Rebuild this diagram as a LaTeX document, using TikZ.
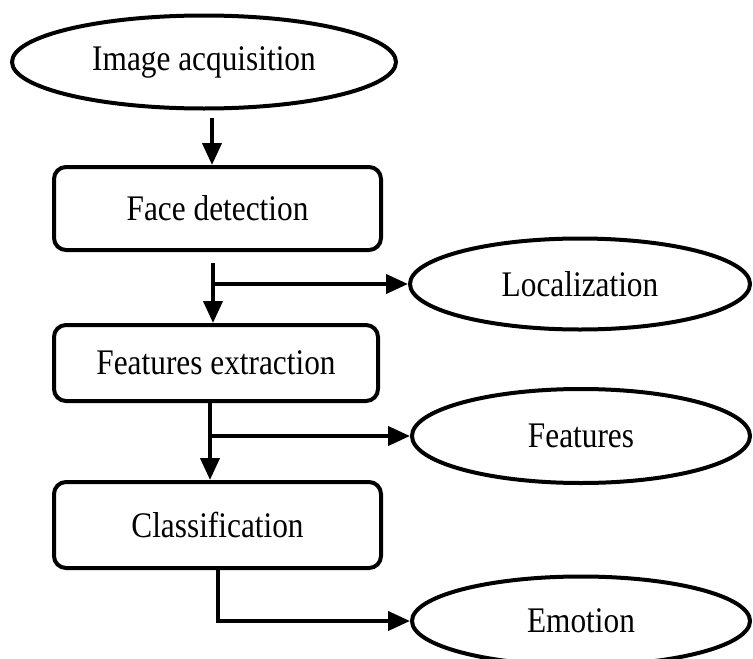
\documentclass[tikz,border=0pt]{standalone}
\usepackage{fontspec}
\setmainfont{Liberation Serif}[FakeStretch=0.87]
\usetikzlibrary{shapes.geometric,arrows.meta}
\begin{document}
\begin{tikzpicture}[x=1pt,y=-1pt,
  every node/.style={font=\fontsize{36}{40}\selectfont, inner sep=0pt},
  oval/.style={draw, ellipse, line width=4pt},
  stepbox/.style={draw, rectangle, rounded corners=12pt, line width=4pt},
  arr/.style={line width=4pt, -{Triangle[length=22pt,width=19pt]}}]
\useasboundingbox (0,0) rectangle (753,659);
\node[oval, minimum width=384pt, minimum height=93pt] (ia) at (204,62) {Image acquisition};
\node[stepbox, minimum width=327pt, minimum height=83pt] (fd) at (217.5,208.5) {Face detection};
\node[oval, minimum width=340pt, minimum height=91pt] (loc) at (580,284) {Localization};
\node[stepbox, minimum width=324pt, minimum height=76pt] (fe) at (216,363) {Features extraction};
\node[oval, minimum width=338pt, minimum height=94pt] (feat) at (581,436) {Features};
\node[stepbox, minimum width=327pt, minimum height=86pt] (cl) at (217.5,525) {Classification};
\node[oval, minimum width=338pt, minimum height=89pt] (emo) at (581,621) {Emotion};
% connectors
\coordinate (a1) at (212,118);
\draw[arr] (a1) -- (a1 |- fd.north);
\coordinate (a2) at (213,263);
\coordinate (b2) at (213,284);
\draw[arr] (a2) -- (a2 |- fe.north);
\draw[arr] (b2) -- (loc.west);
\coordinate (a3) at (210,436);
\draw[arr] (a3 |- fe.south) -- (a3 |- cl.north);
\draw[arr] (a3) -- (feat.west);
\coordinate (a4) at (218,621);
\draw[arr] (a4 |- cl.south) -- (a4) -- (emo.west);
\end{tikzpicture}
\end{document}
